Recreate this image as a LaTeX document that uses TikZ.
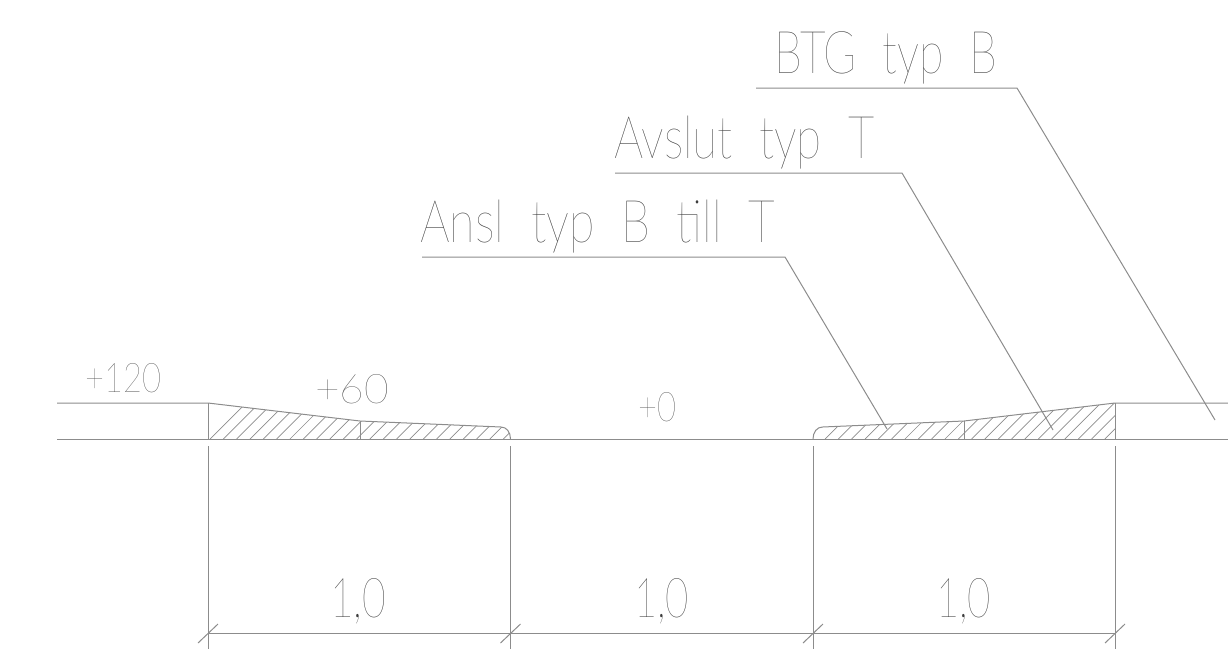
\documentclass[tikz,border=0pt]{standalone}
\usepackage{fontspec}
\usepackage{graphicx}
\setmainfont{Lato Hairline}
\definecolor{cadline}{HTML}{8C8C8C}
\definecolor{cadtext}{HTML}{3C3C3C}
\newcommand{\cad}[2]{\resizebox{#1pt}{\height}{#2}}
\tikzset{
  base/.style={draw=cadline,line width=1pt},
  hatchline/.style={draw=cadline,line width=0.7pt},
  lab/.style={text=cadtext,inner sep=0pt,anchor=base west},
  big/.style={lab,font=\fontsize{59}{59}\selectfont},
  small/.style={lab,font=\fontsize{41}{41}\selectfont},
  dim/.style={lab,font=\fontsize{55}{55}\selectfont}
}
\begin{document}
\begin{tikzpicture}[x=1pt,y=-1pt]
\useasboundingbox (0,0) rectangle (1228,649);
% hatching
\begin{scope}
\clip (208,439) -- (208,403) -- (360,421) -- (501,427) .. controls (506.5,427) and (510.5,432) .. (510.5,439) -- cycle;
\foreach \k in {0,...,30} \draw[hatchline] ({210+13.33*\k},439) -- ++(50,-50);
\end{scope}
\begin{scope}
\clip (813,439) .. controls (813,432) and (817,427) .. (822.5,427) -- (964,421) -- (1115,403) -- (1115,439) -- cycle;
\foreach \k in {0,...,30} \draw[hatchline] ({825+13.33*\k},439) -- ++(50,-50);
\end{scope}
% profile
\draw[base] (57,403) -- (208,403) -- (360,421) -- (501,427) .. controls (506.5,427) and (510.5,432) .. (510.5,439);
\draw[base] (813,439) .. controls (813,432) and (817,427) .. (822.5,427) -- (964,421) -- (1115,403) -- (1228,403);
\draw[base] (57,439) -- (1228,439);
\draw[base] (208,403) -- (208,439);
\draw[base] (360,421) -- (360,439);
\draw[base] (964,421) -- (964,439);
\draw[base] (1115,403) -- (1115,439);
% extension lines
\foreach \x in {208,510.5,813,1115} {
  \draw[base] (\x,446) -- (\x,649);
  \draw[base] (\x-10,643) -- (\x+10,624);
}
\draw[base] (208,633.5) -- (1115,633.5);
% leaders
\draw[base] (756,88) -- (1017,88) -- (1215,420);
\draw[base] (615,173) -- (902,173) -- (1053,430);
\draw[base] (422,257) -- (785,257) -- (887,429);
% texts
\node[big] (btg) at (774,73) {\cad{223}{BTG\ \ typ\ \ B}};
\node[big] (avs) at (614,158) {\cad{260}{Avslut\ \ typ\ \ T}};
\node[big] (ans) at (420,242) {\cad{355}{Ansl\ \ typ\ \ B\ \ till\ \ T}};
\node[small] (p120) at (85,392) {\cad{76}{+120}};
\node[small] (p60) at (315,403) {\cad{74}{+60}};
\node[small] (p0) at (638,421) {\cad{38}{+0}};
\node[dim] (d1) at (330,617) {\cad{56}{1,0}};
\node[dim] (d2) at (634,617) {\cad{55}{1,0}};
\node[dim] (d3) at (936,617) {\cad{55}{1,0}};
\end{tikzpicture}
\end{document}
